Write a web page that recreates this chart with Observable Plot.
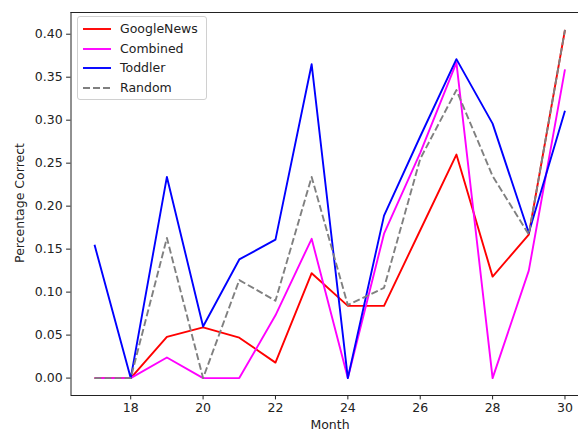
<!DOCTYPE html>
<html>
<head>
<meta charset="utf-8">
<script src="https://cdn.jsdelivr.net/npm/d3@7"></script>
<script src="https://cdn.jsdelivr.net/npm/@observablehq/plot@0.6"></script>
<style>
  html, body { margin: 0; padding: 0; background: #fff; overflow: hidden; }
  #wrap { position: relative; width: 578px; height: 432px; font-family: "DejaVu Sans", sans-serif; color: #222; }
  #legend { position: absolute; left: 77px; top: 16px; width: 130px; height: 84px; box-sizing: border-box;
            border: 1px solid #d0d0d0; border-radius: 3px; background: rgba(255,255,255,0.8); }
  .row { position: absolute; left: 0; height: 16px; font-size: 12.5px; line-height: 16px; }
  .row svg { position: absolute; left: 4px; top: 0; }
  .row span { position: absolute; left: 42px; top: 0; white-space: nowrap; }
  #ylab { position: absolute; left: 19px; top: 203px; transform: translate(-50%, -50%) rotate(-90deg); font-size: 12.5px; white-space: nowrap; }
  #xlab { position: absolute; left: 330px; top: 418px; transform: translateX(-50%); font-size: 12.5px; line-height: 14px; white-space: nowrap; }
</style>
</head>
<body>
<div id="wrap"></div>
<script>
const months = [17, 18, 19, 20, 21, 22, 23, 24, 25, 26, 27, 28, 29, 30];
const googleNews = [0, 0, 0.048, 0.059, 0.047, 0.018, 0.122, 0.084, 0.084, 0.172, 0.260, 0.118, 0.167, 0.405];
const combined   = [0, 0, 0.024, 0, 0, 0.073, 0.162, 0, 0.168, 0.262, 0.367, 0, 0.125, 0.359];
const toddler    = [0.155, 0, 0.234, 0.060, 0.138, 0.161, 0.365, 0, 0.189, 0.281, 0.371, 0.296, 0.169, 0.311];
const random     = [0, 0, 0.163, 0, 0.114, 0.090, 0.234, 0.085, 0.105, 0.255, 0.335, 0.235, 0.167, 0.405];
const seriesNames = ["GoogleNews", "Combined", "Toddler", "Random"];
const seriesColors = ["#ff0000", "#ff00ff", "#0000ff", "#808080"];
const yTicks = [0, 0.05, 0.10, 0.15, 0.20, 0.25, 0.30, 0.35, 0.40];
const xTicks = [18, 20, 22, 24, 26, 28, 30];

const allSeries = [googleNews, combined, toddler, random];
const rows = (vals, name) => months.map((m, i) => ({month: m, value: vals[i], series: name}));

// matplotlib-style 5% margins
const xMin = d3.min(months), xMax = d3.max(months);
const yAll = allSeries.flat();
const yMin = d3.min(yAll), yMax = d3.max(yAll);
const xPad = (xMax - xMin) * 0.05, yPad = (yMax - yMin) * 0.05;
const xDomain = [xMin - xPad, xMax + xPad];
const yDomain = [yMin - yPad, yMax + yPad];

const lineMarks = allSeries.map((vals, k) =>
  Plot.line(rows(vals, seriesNames[k]), {
    x: "month", y: "value",
    stroke: seriesColors[k], strokeWidth: 1.9,
    strokeDasharray: seriesNames[k] === "Random" ? "7,3" : null,
    strokeLinejoin: "round", strokeLinecap: "butt"
  })
);

const chart = Plot.plot({
  width: 578, height: 432,
  marginLeft: 70.5, marginRight: 0, marginTop: 12, marginBottom: 37,
  style: {fontFamily: "DejaVu Sans, sans-serif", fontSize: "12.5px", color: "#222", background: "white", overflow: "hidden"},
  x: {domain: xDomain, range: [70.5, 588]},
  y: {domain: yDomain, range: [395, 12]},
  marks: [
    ...lineMarks,
    Plot.ruleY([yDomain[0], yDomain[1]], {stroke: "#222", strokeWidth: 1}),
    Plot.ruleX([xDomain[0]], {stroke: "#222", strokeWidth: 1}),
    Plot.axisY({ticks: yTicks, tickFormat: d3.format(".2f"), tickSize: 4.4, tickPadding: 4, label: null, stroke: "#222"}),
    Plot.axisX({ticks: xTicks, tickFormat: d => String(d), tickSize: 4.4, tickPadding: 3, label: null, stroke: "#222"})
  ]
});

const wrap = document.getElementById("wrap");
wrap.appendChild(chart);

// legend
const legend = document.createElement("div");
legend.id = "legend";
seriesNames.forEach((name, k) => {
  const row = document.createElement("div");
  row.className = "row";
  row.style.top = (4 + k * 19.7) + "px";
  row.style.width = "128px";
  const dash = name === "Random" ? 'stroke-dasharray="7,3"' : "";
  row.innerHTML = `<svg width="30" height="16"><line x1="1" x2="29" y1="8" y2="8" stroke="${seriesColors[k]}" stroke-width="1.9" ${dash}/></svg><span>${name}</span>`;
  legend.appendChild(row);
});
wrap.appendChild(legend);

const ylab = document.createElement("div");
ylab.id = "ylab"; ylab.textContent = "Percentage Correct";
wrap.appendChild(ylab);
const xlab = document.createElement("div");
xlab.id = "xlab"; xlab.textContent = "Month";
wrap.appendChild(xlab);
</script>
</body>
</html>
